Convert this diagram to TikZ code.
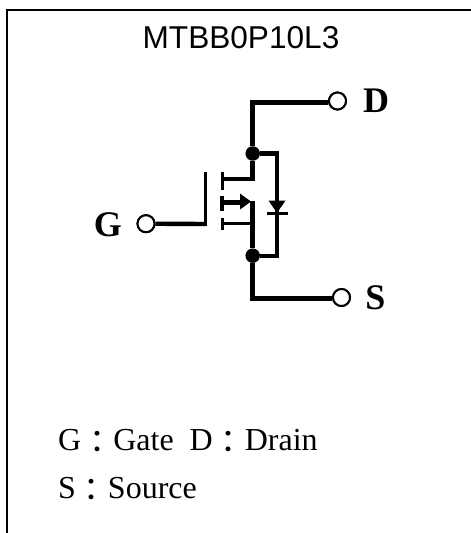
\documentclass[tikz,border=0pt]{standalone}
\usepackage{fontspec}
\setmainfont{Liberation Serif}
\newfontfamily\titlefont{Liberation Sans}
\newfontfamily\cjkfont{Noto Sans CJK TC}
\newcommand{\cc}{\raisebox{-3.5pt}{\cjkfont ：}}
\tikzset{
  x=1pt,y=-1pt,
  terminal/.style={circle,draw=black,line width=2pt,fill=white,inner sep=0pt,minimum size=17pt},
  junction/.style={circle,fill=black,inner sep=0pt,minimum size=14.5pt},
  thick line/.style={line width=5.4pt,line cap=butt,line join=miter},
  mid line/.style={line width=4.4pt},
  thin line/.style={line width=3pt},
  pinlabel/.style={inner sep=0pt,font=\bfseries\fontsize{36}{38}\selectfont},
  legend/.style={anchor=base west,inner sep=0pt,font=\fontsize{32}{36}\selectfont},
}
\begin{document}
\begin{tikzpicture}
\useasboundingbox (0,0) rectangle (471,533);
% frame
\coordinate (fa) at (7,533);
\coordinate (fb) at (7,10);
\coordinate (fc) at (471,10);
\draw[line width=2.6pt,line join=miter] (fa) -- (fb) -- (fc);
\node[inner sep=0pt,anchor=base,font=\titlefont\fontsize{31.6}{36}\selectfont] (title) at (241,48) {MTBB0P10L3};
% terminals
\node[terminal] (G) at (146,223.7) {};
\node[terminal] (D) at (337.5,101) {};
\node[terminal] (S) at (341.5,297.5) {};
\node[pinlabel,anchor=base] (Gl) at (108,236.5) {G};
\node[pinlabel,anchor=base] (Dl) at (376,112.5) {D};
\node[pinlabel,anchor=base] (Sl) at (375.5,309.5) {S};
% junctions and corners
\node[junction] (J1) at (252.7,153.5) {};
\node[junction] (J2) at (252.7,255.7) {};
\coordinate (gc) at (205.7,224);
\coordinate (gt) at (205.7,171.5);
\coordinate (c1a) at (222,171.5);
\coordinate (c1b) at (222,189.5);
\coordinate (c2a) at (222,195.5);
\coordinate (c2b) at (222,211);
\coordinate (c3a) at (222,218);
\coordinate (c3b) at (222,229.5);
\coordinate (t1) at (222,178.7);
\coordinate (t2) at (222,202.7);
\coordinate (t3) at (222,223.5);
\coordinate (v1) at (252.7,178.7);
\coordinate (v3) at (252.7,223.5);
\coordinate (dtop) at (252.7,102.3);
\coordinate (stop) at (252.7,298.5);
\coordinate (sv) at (252.7,201);
\coordinate (dd1) at (277,153.5);
\coordinate (dd2) at (277,255.7);
\coordinate (tipa) at (268.5,200.5);
\coordinate (tipb) at (285.5,200.5);
\coordinate (tip) at (277,213);
\coordinate (bara) at (266.5,213.5);
\coordinate (barb) at (288,213.5);
\coordinate (ah1) at (240,193.5);
\coordinate (ah2) at (240,209.5);
\coordinate (ah3) at (251,201.5);
% wires
\draw[mid line] (G) -- (gc);
\draw[thin line] ([yshift=-2.2pt]gc) -- (gt);
\draw[thin line] (D) -- (D -| dtop);
\draw[mid line] (D.west |- dtop) -- (dtop);
\draw[thick line] ([xshift=-2.7pt]dtop) -- (dtop) -- (J1);
\draw[thick line] (J1) -- (v1);
\draw[mid line] (t1) -- ([xshift=2.7pt]v1);
\draw[thick line] (sv) -- (J2) -- (stop) -- (S.west |- stop);
\draw[thin line] (t3) -- (v3);
\draw[thick line] (t2) -- (ah1 |- t2);
\fill (ah1) -- (ah3) -- (ah2) -- cycle;
\draw[thin line] (c1a) -- (c1b);
\draw[line width=4pt] (c2a) -- (c2b);
\draw[thin line] (c3a) -- (c3b);
\draw[mid line,line join=miter] (J1) -- (dd1) -- (dd2) -- (J2);
\fill (tipa) -- (tipb) -- (tip) -- cycle;
\draw[thin line] (bara) -- (barb);
% redraw terminals over wires
\node[terminal] at (G) {};
\node[terminal] at (D) {};
\node[terminal] at (S) {};
% legend
\node[legend] (l1) at (58,450) {G\cc Gate\ \ D\cc Drain};
\node[legend] (l2) at (58,498) {S\cc Source};
\end{tikzpicture}
\end{document}
